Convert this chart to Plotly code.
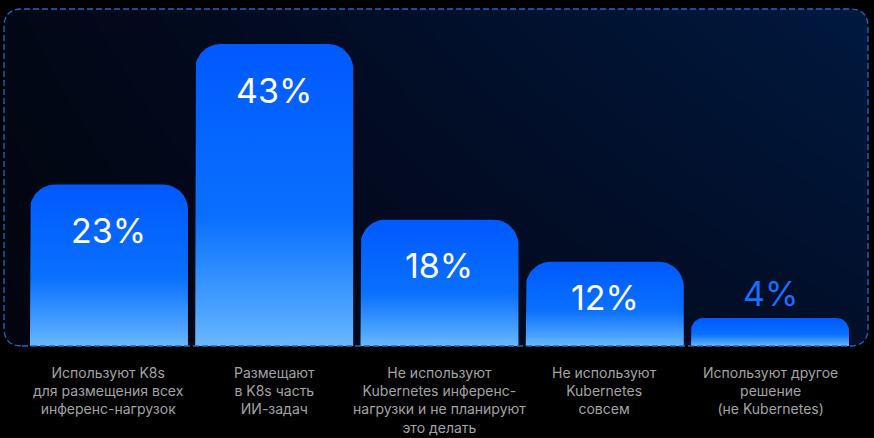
import numpy as np
import plotly.graph_objects as go

categories = [
    "Используют K8s<br>для размещения всех<br>инференс-нагрузок",
    "Размещают<br>в K8s часть<br>ИИ-задач",
    "Не используют<br>Kubernetes инференс-<br>нагрузки и не планируют<br>это делать",
    "Не используют<br>Kubernetes<br>совсем",
    "Используют другое<br>решение<br>(не Kubernetes)",
]
values = [23, 43, 18, 12, 4]
value_labels = ["23%", "43%", "18%", "12%", "4%"]

# canvas / panel geometry (px)
W, H = 874, 438
M_L, M_R, M_T, M_B = 4, 6, 9, 92
X_RANGE = [-0.635, 4.593]
Y_RANGE = [0, 48]
plot_w = W - M_L - M_R
plot_h = H - M_T - M_B
px_x = plot_w / (X_RANGE[1] - X_RANGE[0])
px_y = plot_h / (Y_RANGE[1] - Y_RANGE[0])
BAR_W = 0.956
PANEL_R = 18

BAR_SCALE = [[0, "#6BB8FF"], [0.12, "#4AA2FF"], [0.42, "#0A70FF"], [1, "#0059FF"]]
BG_SCALE = [[0, "#02050E"], [0.4, "#020B22"], [1, "#00193F"]]


def bar_outline(i, v):
    h_px = v * px_y
    r = min(25, 0.45 * h_px)
    rx, ry = r / px_x, r / px_y
    x0, x1 = i - BAR_W / 2, i + BAR_W / 2
    a1 = np.linspace(np.pi, np.pi / 2, 14)
    a2 = np.linspace(np.pi / 2, 0, 14)
    xs = [x0] + list(x0 + rx + rx * np.cos(a1)) + list(x1 - rx + rx * np.cos(a2)) + [x1, x0]
    ys = [0] + list(v - ry + ry * np.sin(a1)) + list(v - ry + ry * np.sin(a2)) + [0, 0]
    return xs, ys


fig = go.Figure()

# panel background gradient
fig.add_trace(go.Heatmap(
    x=X_RANGE, y=Y_RANGE, z=[[0, 0.55], [0.15, 1]],
    zmin=0, zmax=1, zsmooth="best", colorscale=BG_SCALE,
    showscale=False, hoverinfo="skip",
))

for i, v in enumerate(values):
    xs, ys = bar_outline(i, v)
    fig.add_trace(go.Scatter(
        x=xs, y=ys, mode="lines", fill="toself", line=dict(width=0),
        fillgradient=dict(type="vertical", colorscale=BAR_SCALE, start=0, stop=v),
        hoverinfo="skip", showlegend=False,
    ))
    h_px = v * px_y
    if h_px > 60:
        fig.add_annotation(x=i, y=v, xref="x", yref="y", text=value_labels[i],
                           showarrow=False, yanchor="middle",
                           yshift=-min(46, 0.42 * h_px),
                           font=dict(family="Inter", size=34, color="white"))
    else:
        fig.add_annotation(x=i, y=v, xref="x", yref="y", text=value_labels[i],
                           showarrow=False, yanchor="middle", yshift=24,
                           font=dict(family="Inter", size=34, color="#1A6DFF"))
    fig.add_annotation(x=i, y=0, xref="x", yref="y", text=categories[i],
                       showarrow=False, yanchor="top", yshift=-16,
                       font=dict(family="Inter", size=14, color="#A3A3A3"))

# rounded panel: corner masks + dashed border
rx, ry = PANEL_R / plot_w, PANEL_R / plot_h
corners = [
    f"M 0,1 L {rx},1 Q 0,1 0,{1 - ry} Z",
    f"M 1,1 L {1 - rx},1 Q 1,1 1,{1 - ry} Z",
    f"M 0,0 L {rx},0 Q 0,0 0,{ry} Z",
    f"M 1,0 L {1 - rx},0 Q 1,0 1,{ry} Z",
]
for p in corners:
    fig.add_shape(type="path", path=p, xref="paper", yref="paper",
                  fillcolor="black", line=dict(width=0), layer="above")
border = (f"M {rx},0 L {1 - rx},0 Q 1,0 1,{ry} L 1,{1 - ry} Q 1,1 {1 - rx},1 "
          f"L {rx},1 Q 0,1 0,{1 - ry} L 0,{ry} Q 0,0 {rx},0 Z")
fig.add_shape(type="path", path=border, xref="paper", yref="paper",
              line=dict(color="#2066C8", width=1.3, dash="6px,3px"), layer="above")

fig.update_layout(
    width=W, height=H,
    margin=dict(l=M_L, r=M_R, t=M_T, b=M_B),
    paper_bgcolor="black", plot_bgcolor="black",
    showlegend=False,
    xaxis=dict(range=X_RANGE, visible=False, fixedrange=True),
    yaxis=dict(range=Y_RANGE, visible=False, fixedrange=True),
)

# page has a default 8px body margin; drop it so the figure sits at 0,0
fig.write_html("out.html", config={"displayModeBar": False},
               post_script="document.body.style.margin='0';document.body.style.overflow='hidden';")
